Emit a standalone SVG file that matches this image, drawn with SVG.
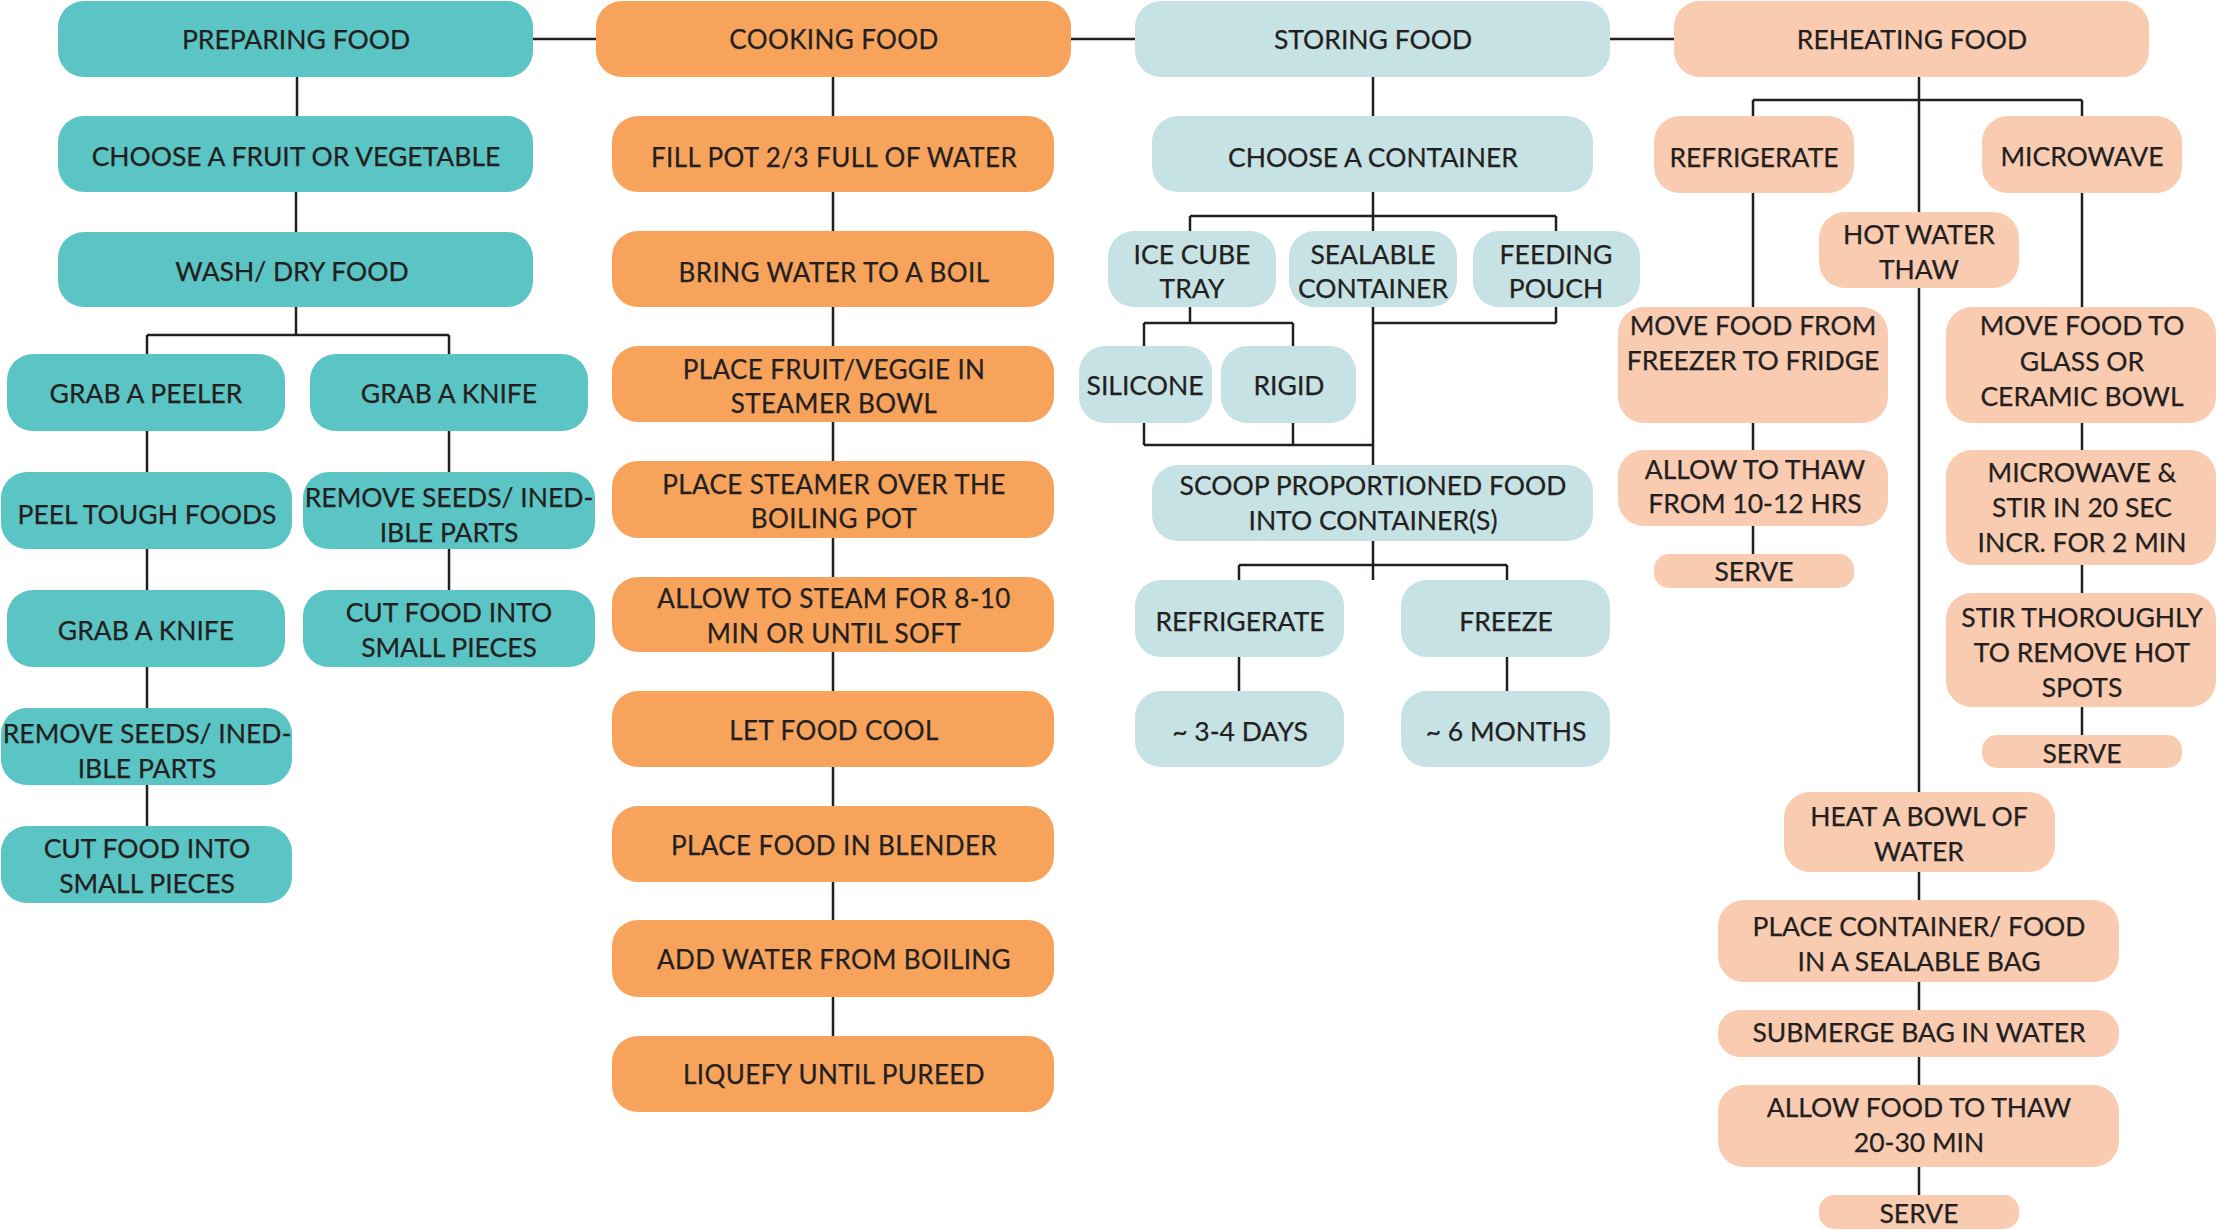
<svg xmlns="http://www.w3.org/2000/svg" width="2217" height="1230" viewBox="0 0 2217 1230">
<style>
.teal{fill:#5BC5C5}
.orange{fill:#F7A35C}
.blue{fill:#C6E2E5}
.peach{fill:#F9CBB0}
text{font-family:Lato,"Liberation Sans",sans-serif;font-size:26.5px;fill:#231F20;text-anchor:middle;stroke:#231F20;stroke-width:0.25px}
.c2 text{font-size:26px;letter-spacing:0.4px}
.con line{stroke:#231F20;stroke-width:2.5;fill:none}
</style>
<rect width="2217" height="1230" fill="#fff"/>
<g class="con" id="connectors">
<line x1="533" y1="39" x2="597" y2="39"/>
<line x1="1071" y1="39" x2="1136" y2="39"/>
<line x1="1610" y1="39" x2="1675" y2="39"/>
<line x1="297" y1="77" x2="297" y2="116"/>
<line x1="296" y1="192" x2="296" y2="232"/>
<line x1="296" y1="307" x2="296" y2="335"/>
<line x1="147" y1="335" x2="449" y2="335"/>
<line x1="147" y1="335" x2="147" y2="826"/>
<line x1="449" y1="335" x2="449" y2="590"/>
<line x1="833" y1="77" x2="833" y2="1036"/>
<line x1="1373" y1="77" x2="1373" y2="580"/>
<line x1="1190" y1="216" x2="1556" y2="216"/>
<line x1="1190" y1="216" x2="1190" y2="323"/>
<line x1="1556" y1="216" x2="1556" y2="323"/>
<line x1="1144" y1="323" x2="1293" y2="323"/>
<line x1="1373" y1="323" x2="1556" y2="323"/>
<line x1="1144" y1="323" x2="1144" y2="445"/>
<line x1="1293" y1="323" x2="1293" y2="445"/>
<line x1="1144" y1="445" x2="1373" y2="445"/>
<line x1="1239" y1="565" x2="1507" y2="565"/>
<line x1="1239" y1="565" x2="1239" y2="691"/>
<line x1="1507" y1="565" x2="1507" y2="691"/>
<line x1="1919" y1="77" x2="1919" y2="1195"/>
<line x1="1753" y1="100" x2="2082" y2="100"/>
<line x1="1753" y1="100" x2="1753" y2="554"/>
<line x1="2082" y1="100" x2="2082" y2="735"/>
</g>

<g id="prep-hdr"><rect class="teal" x="58" y="1" width="475" height="76" rx="26"/><text x="296" y="49">PREPARING FOOD</text></g>
<g id="choose-fruit"><rect class="teal" x="58" y="116" width="475" height="76" rx="26"/><text x="296" y="166">CHOOSE A FRUIT OR VEGETABLE</text></g>
<g id="wash"><rect class="teal" x="58" y="232" width="475" height="75" rx="26"/><text x="292" y="281">WASH/ DRY FOOD</text></g>
<g id="grab-peeler"><rect class="teal" x="7" y="354" width="278" height="77" rx="26"/><text x="146" y="403">GRAB A PEELER</text></g>
<g id="grab-knife-r"><rect class="teal" x="310" y="354" width="278" height="77" rx="26"/><text x="449" y="403">GRAB A KNIFE</text></g>
<g id="peel"><rect class="teal" x="1" y="472" width="291" height="77" rx="26"/><text x="147" y="524">PEEL TOUGH FOODS</text></g>
<g id="remove-r"><rect class="teal" x="303" y="472" width="292" height="77" rx="26"/><text x="449" y="507">REMOVE SEEDS/ INED-</text><text x="449" y="542">IBLE PARTS</text></g>
<g id="grab-knife-l"><rect class="teal" x="7" y="590" width="278" height="77" rx="26"/><text x="146" y="640">GRAB A KNIFE</text></g>
<g id="cut-r"><rect class="teal" x="303" y="590" width="292" height="77" rx="26"/><text x="449" y="622">CUT FOOD INTO</text><text x="449" y="657">SMALL PIECES</text></g>
<g id="remove-l"><rect class="teal" x="1" y="708" width="291" height="77" rx="26"/><text x="147" y="743">REMOVE SEEDS/ INED-</text><text x="147" y="778">IBLE PARTS</text></g>
<g id="cut-l"><rect class="teal" x="1" y="826" width="291" height="77" rx="26"/><text x="147" y="858">CUT FOOD INTO</text><text x="147" y="893">SMALL PIECES</text></g>

<g class="c2">
<g id="cook-hdr"><rect class="orange" x="596" y="1" width="475" height="76" rx="26"/><text x="834" y="49">COOKING FOOD</text></g>
<g id="fill"><rect class="orange" x="612" y="116" width="442" height="76" rx="26"/><text x="834" y="167">FILL POT 2/3 FULL OF WATER</text></g>
<g id="bring"><rect class="orange" x="612" y="231" width="442" height="76" rx="26"/><text x="834" y="282">BRING WATER TO A BOIL</text></g>
<g id="place-fruit"><rect class="orange" x="612" y="346" width="442" height="76" rx="26"/><text x="834" y="379">PLACE FRUIT/VEGGIE IN</text><text x="834" y="413">STEAMER BOWL</text></g>
<g id="place-steamer"><rect class="orange" x="612" y="461" width="442" height="77" rx="26"/><text x="834" y="494">PLACE STEAMER OVER THE</text><text x="834" y="528">BOILING POT</text></g>
<g id="allow-steam"><rect class="orange" x="612" y="577" width="442" height="75" rx="26"/><text x="834" y="608">ALLOW TO STEAM FOR 8-10</text><text x="834" y="643">MIN OR UNTIL SOFT</text></g>
<g id="cool"><rect class="orange" x="612" y="691" width="442" height="76" rx="26"/><text x="834" y="740">LET FOOD COOL</text></g>
<g id="blender"><rect class="orange" x="612" y="806" width="442" height="76" rx="26"/><text x="834" y="855">PLACE FOOD IN BLENDER</text></g>
<g id="add-water"><rect class="orange" x="612" y="920" width="442" height="77" rx="26"/><text x="834" y="969">ADD WATER FROM BOILING</text></g>
<g id="liquefy"><rect class="orange" x="612" y="1036" width="442" height="76" rx="26"/><text x="834" y="1084">LIQUEFY UNTIL PUREED</text></g>
</g>

<g id="store-hdr"><rect class="blue" x="1135" y="1" width="475" height="76" rx="26"/><text x="1373" y="49">STORING FOOD</text></g>
<g id="choose-cont"><rect class="blue" x="1152" y="116" width="441" height="76" rx="26"/><text x="1373" y="167">CHOOSE A CONTAINER</text></g>
<g id="ice"><rect class="blue" x="1108" y="231" width="168" height="76" rx="26"/><text x="1192" y="264">ICE CUBE</text><text x="1192" y="298">TRAY</text></g>
<g id="sealable"><rect class="blue" x="1289" y="231" width="168" height="76" rx="26"/><text x="1373" y="264">SEALABLE</text><text x="1373" y="298">CONTAINER</text></g>
<g id="feeding"><rect class="blue" x="1473" y="231" width="167" height="76" rx="26"/><text x="1556" y="264">FEEDING</text><text x="1556" y="298">POUCH</text></g>
<g id="silicone"><rect class="blue" x="1079" y="346" width="133" height="77" rx="26"/><text x="1145" y="395">SILICONE</text></g>
<g id="rigid"><rect class="blue" x="1221" y="346" width="135" height="77" rx="26"/><text x="1289" y="395">RIGID</text></g>
<g id="scoop"><rect class="blue" x="1152" y="465" width="441" height="76" rx="26"/><text x="1373" y="495">SCOOP PROPORTIONED FOOD</text><text x="1373" y="530">INTO CONTAINER(S)</text></g>
<g id="refrig-s"><rect class="blue" x="1135" y="580" width="209" height="77" rx="26"/><text x="1240" y="631">REFRIGERATE</text></g>
<g id="freeze"><rect class="blue" x="1401" y="580" width="209" height="77" rx="26"/><text x="1506" y="631">FREEZE</text></g>
<g id="days"><rect class="blue" x="1135" y="691" width="209" height="76" rx="26"/><text x="1240" y="741">~ 3-4 DAYS</text></g>
<g id="months"><rect class="blue" x="1401" y="691" width="209" height="76" rx="26"/><text x="1506" y="741">~ 6 MONTHS</text></g>

<g id="reheat-hdr"><rect class="peach" x="1674" y="1" width="475" height="76" rx="26"/><text x="1912" y="49">REHEATING FOOD</text></g>
<g id="refrig-r"><rect class="peach" x="1654" y="116" width="200" height="77" rx="26"/><text x="1754" y="167">REFRIGERATE</text></g>
<g id="microwave"><rect class="peach" x="1982" y="116" width="200" height="77" rx="26"/><text x="2082" y="166">MICROWAVE</text></g>
<g id="hotwater"><rect class="peach" x="1819" y="212" width="200" height="76" rx="26"/><text x="1919" y="244">HOT WATER</text><text x="1919" y="279">THAW</text></g>
<g id="move-from"><rect class="peach" x="1618" y="307" width="270" height="116" rx="26"/><text x="1753" y="335">MOVE FOOD FROM</text><text x="1753" y="370">FREEZER TO FRIDGE</text></g>
<g id="move-to"><rect class="peach" x="1946" y="307" width="270" height="116" rx="26"/><text x="2082" y="335">MOVE FOOD TO</text><text x="2082" y="371">GLASS OR</text><text x="2082" y="406">CERAMIC BOWL</text></g>
<g id="allow-thaw"><rect class="peach" x="1618" y="450" width="270" height="76" rx="26"/><text x="1755" y="479">ALLOW TO THAW</text><text x="1755" y="513">FROM 10-12 HRS</text></g>
<g id="serve1"><rect class="peach" x="1654" y="554" width="200" height="34" rx="15"/><text x="1754" y="581">SERVE</text></g>
<g id="mw-stir"><rect class="peach" x="1946" y="450" width="270" height="115" rx="26"/><text x="2082" y="482">MICROWAVE &amp;</text><text x="2082" y="517">STIR IN 20 SEC</text><text x="2082" y="552">INCR. FOR 2 MIN</text></g>
<g id="stir"><rect class="peach" x="1946" y="593" width="270" height="114" rx="26"/><text x="2082" y="627">STIR THOROUGHLY</text><text x="2082" y="662">TO REMOVE HOT</text><text x="2082" y="697">SPOTS</text></g>
<g id="serve2"><rect class="peach" x="1982" y="735" width="200" height="33" rx="15"/><text x="2082" y="763">SERVE</text></g>
<g id="heat"><rect class="peach" x="1784" y="792" width="271" height="80" rx="26"/><text x="1919" y="826">HEAT A BOWL OF</text><text x="1919" y="861">WATER</text></g>
<g id="place-cont"><rect class="peach" x="1718" y="900" width="401" height="82" rx="26"/><text x="1919" y="936">PLACE CONTAINER/ FOOD</text><text x="1919" y="971">IN A SEALABLE BAG</text></g>
<g id="submerge"><rect class="peach" x="1718" y="1010" width="401" height="47" rx="22"/><text x="1919" y="1042">SUBMERGE BAG IN WATER</text></g>
<g id="allow-food"><rect class="peach" x="1718" y="1085" width="401" height="82" rx="26"/><text x="1919" y="1117">ALLOW FOOD TO THAW</text><text x="1919" y="1152">20-30 MIN</text></g>
<g id="serve3"><rect class="peach" x="1819" y="1195" width="200" height="34" rx="15"/><text x="1919" y="1223">SERVE</text></g>
</svg>
